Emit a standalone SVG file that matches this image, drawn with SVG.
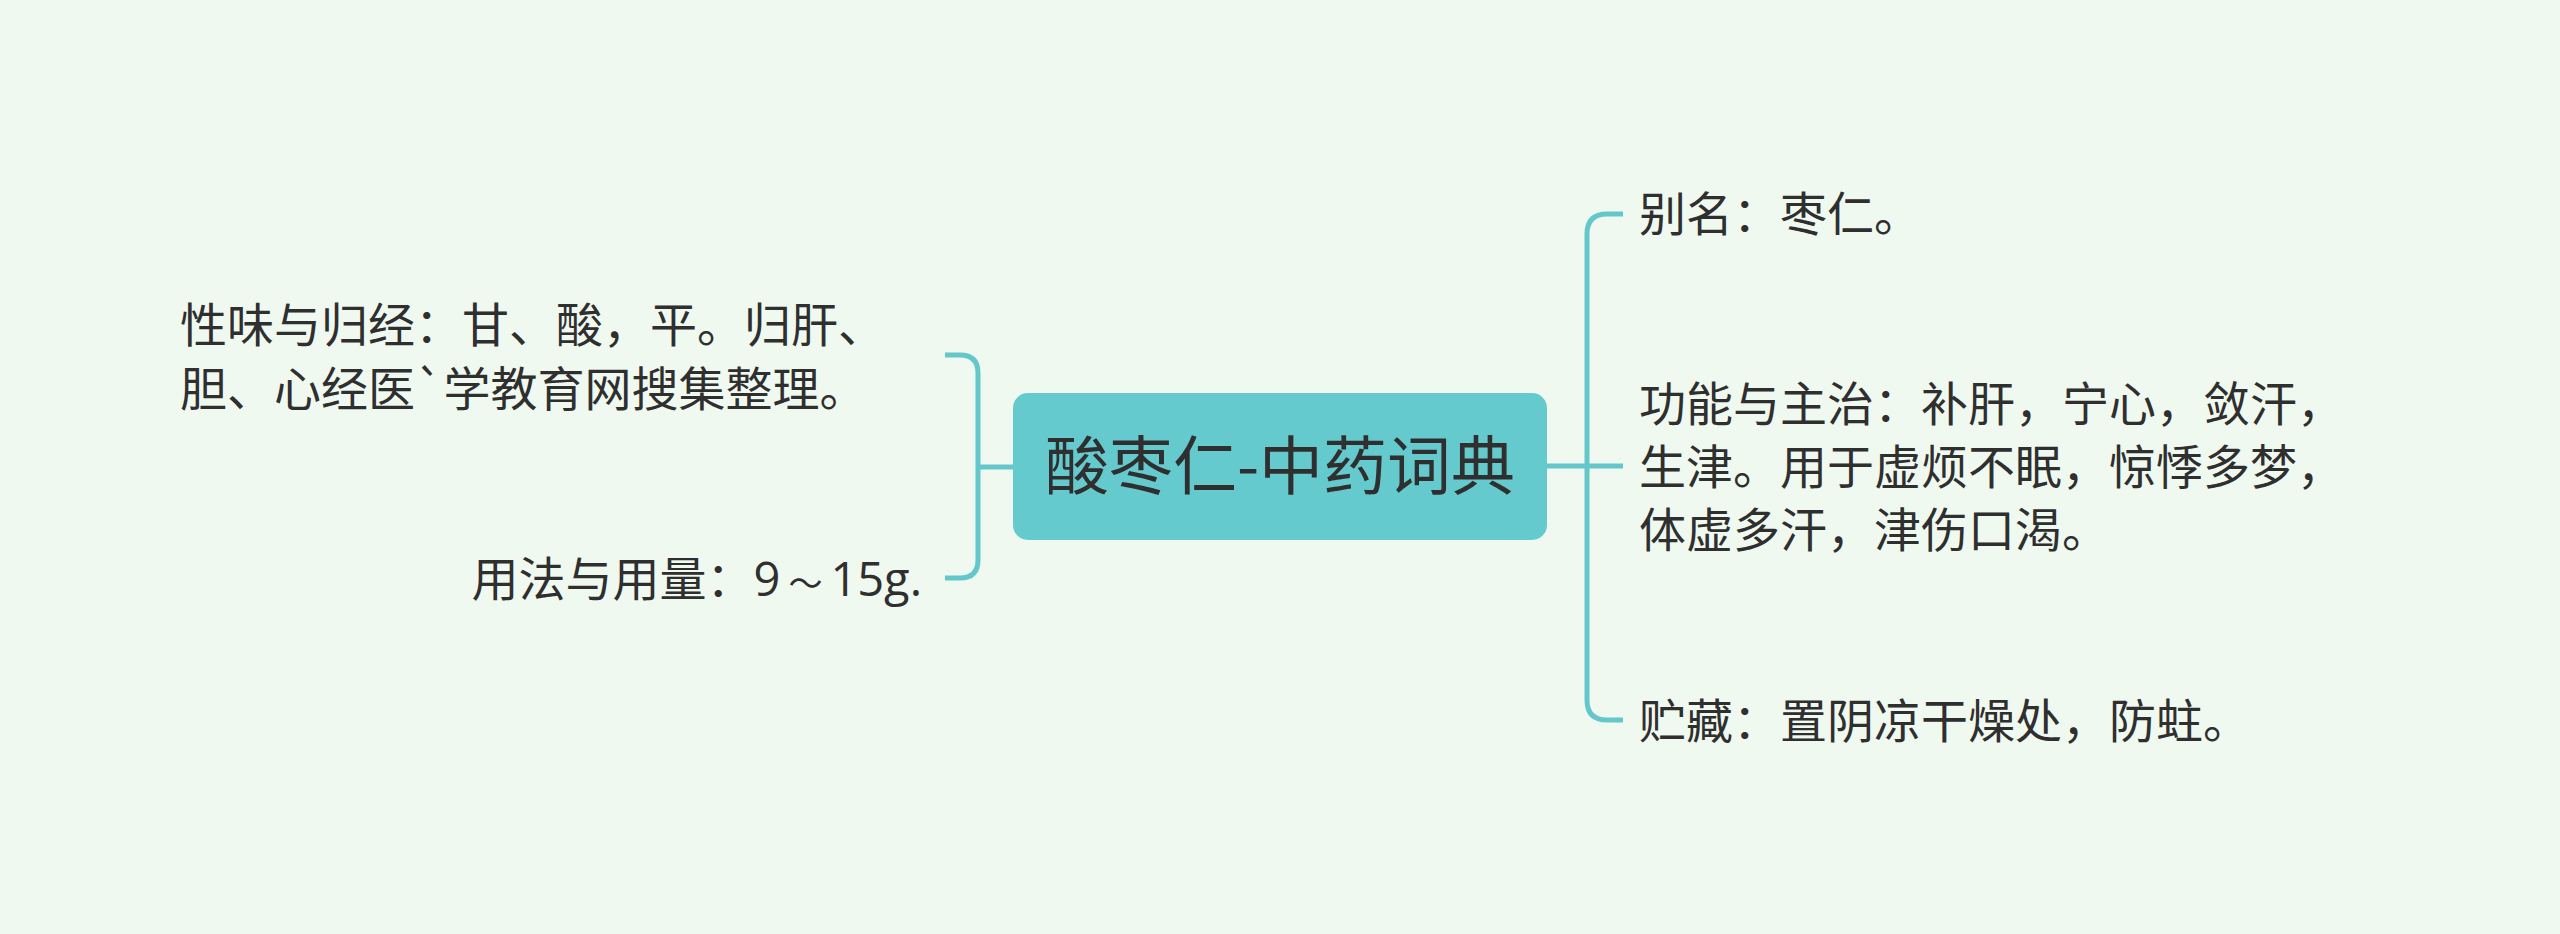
<svg xmlns="http://www.w3.org/2000/svg" width="2560" height="934" viewBox="0 0 2560 934">
<style>
.t{font-family:"Noto Sans CJK SC","Noto Sans",sans-serif;font-size:47px;fill:#2f2f2f}
.l{font-family:"Open Sans","Noto Sans",sans-serif}
.c{fill:none;stroke:#63c7cb;stroke-width:5;stroke-linecap:butt}
</style>
<rect width="2560" height="934" fill="#eff9ef"/>
<g id="connectors">
<path class="c" d="M945 355 H960 Q978 355 978 373 V560 Q978 578 960 578 H945"/>
<path class="c" d="M978 467 H1014"/>
<path class="c" d="M1623 214 H1607 Q1587 214 1587 234 V700 Q1587 720 1607 720 H1623"/>
<path class="c" d="M1546 466 H1623"/>
</g>
<g id="root">
<rect x="1013" y="393" width="534" height="147" rx="15" fill="#64cacd"/>
<text x="1280" y="489" text-anchor="middle" style="font-family:'Noto Sans CJK SC','Noto Sans',sans-serif;font-size:64px;fill:#2f2f2f">酸枣仁-中药词典</text>
</g>
<g id="node-xingwei">
<text class="t" x="180" y="342">性味与归经：甘、酸，平。归肝、</text>
<text class="t" x="180" y="406">胆、心经医`学教育网搜集整理。</text>
</g>
<g id="node-yongfa">
<text class="t" x="922" y="596" text-anchor="end">用法与用量：<tspan class="l">9</tspan><tspan font-size="34" dx="8">～</tspan><tspan class="l" dx="8">15g.</tspan></text>
</g>
<g id="node-bieming">
<text class="t" x="1639" y="231">别名：枣仁。</text>
</g>
<g id="node-gongneng">
<text class="t" x="1639" y="421">功能与主治：补肝，宁心，敛汗，</text>
<text class="t" x="1639" y="484">生津。用于虚烦不眠，惊悸多梦，</text>
<text class="t" x="1639" y="547">体虚多汗，津伤口渴。</text>
</g>
<g id="node-zhucang">
<text class="t" x="1639" y="738">贮藏：置阴凉干燥处，防蛀。</text>
</g>
</svg>
